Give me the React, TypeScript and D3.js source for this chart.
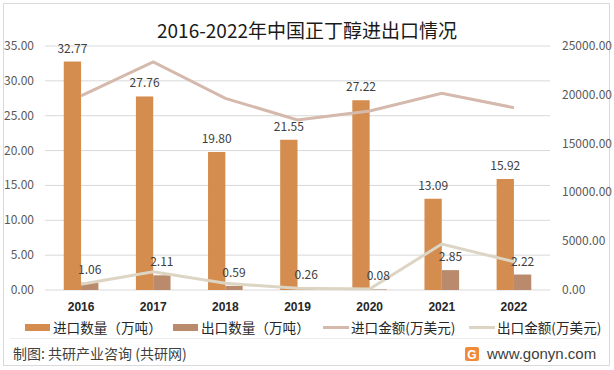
import React from "react"
import * as d3 from "d3"

const years = ["2016", "2017", "2018", "2019", "2020", "2021", "2022"]
const importQty = [32.77, 27.76, 19.8, 21.55, 27.22, 13.09, 15.92]
const exportQty = [1.06, 2.11, 0.59, 0.26, 0.08, 2.85, 2.22]
const importAmt = [19880, 23360, 19640, 17420, 18340, 20150, 18680]
const exportAmt = [590, 1870, 690, 170, 100, 4710, 2900]
const leftTicks = [0, 5, 10, 15, 20, 25, 30, 35]
const rightTicks = [0, 5000, 10000, 15000, 20000, 25000]

const legendItems = [
  { label: "进口数量（万吨）", kind: "bar", color: "#D48C4F", x: 25 },
  { label: "出口数量（万吨）", kind: "bar", color: "#B98A6B", x: 173 },
  { label: "进口金额(万美元)", kind: "line", color: "#D5B9AC", x: 323 },
  { label: "出口金额(万美元)", kind: "line", color: "#DDD5C3", x: 469 },
]

const FONT = "'Noto Sans CJK SC', 'Noto Sans', sans-serif"

export default function App() {
  const width = 614
  const height = 370
  const plot = { left: 45, right: 550, top: 46, bottom: 290 }

  const x = d3.scaleBand().domain(years).range([plot.left, plot.right])
  const bw = x.bandwidth()
  const xSub = d3
    .scaleBand()
    .domain(["import", "export"])
    .range([bw * 0.26, bw * 0.74])
  const yL = d3.scaleLinear().domain([0, 35]).range([plot.bottom, plot.top])
  const yR = d3.scaleLinear().domain([0, 25000]).range([plot.bottom, plot.top])
  const cx = (y: string) => (x(y) ?? 0) + bw / 2

  const line = d3
    .line<number>()
    .x((_, i) => cx(years[i]))
    .y(d => yR(d))

  return (
    <svg
      width={width}
      height={height}
      style={{ position: "fixed", left: 0, top: 0, background: "#fff" }}
      fontFamily={FONT}
    >
      <rect x={3.5} y={3.5} width={606} height={362} fill="#fff" stroke="#D9D9D9" />

      <text x={307} y={38} textAnchor="middle" fontSize={19} fill="#1a1a1a">
        2016-2022年中国正丁醇进出口情况
      </text>

      {leftTicks.map(t => (
        <g key={"l" + t}>
          <line
            x1={plot.left}
            x2={plot.right}
            y1={yL(t)}
            y2={yL(t)}
            stroke="#D9D9D9"
            strokeWidth={1}
          />
          <text x={34} y={yL(t) + 4} textAnchor="end" fontSize={12} fill="#595959">
            {t.toFixed(2)}
          </text>
        </g>
      ))}
      {rightTicks.map(t => (
        <text key={"r" + t} x={562} y={yR(t) + 4} fontSize={12} fill="#595959">
          {t.toFixed(2)}
        </text>
      ))}

      {years.map((yr, i) => {
        const xi = (x(yr) ?? 0) + (xSub("import") ?? 0)
        const xe = (x(yr) ?? 0) + (xSub("export") ?? 0)
        const sw = xSub.bandwidth()
        return (
          <g key={yr}>
            <rect
              x={xi}
              y={yL(importQty[i])}
              width={sw}
              height={plot.bottom - yL(importQty[i])}
              fill="#D48C4F"
            />
            <rect
              x={xe}
              y={yL(exportQty[i])}
              width={sw}
              height={plot.bottom - yL(exportQty[i])}
              fill="#B98A6B"
            />
          </g>
        )
      })}

      <path d={line(importAmt) ?? ""} fill="none" stroke="#D5B9AC" strokeWidth={3} />
      <path d={line(exportAmt) ?? ""} fill="none" stroke="#DDD5C3" strokeWidth={3} />

      {years.map((yr, i) => {
        const sw = xSub.bandwidth()
        const xi = (x(yr) ?? 0) + (xSub("import") ?? 0) + sw / 2
        const xe = (x(yr) ?? 0) + (xSub("export") ?? 0) + sw / 2
        return (
          <g key={"lab" + yr} fontSize={12} fill="#404040" textAnchor="middle">
            <text x={xi} y={yL(importQty[i]) - 9}>
              {importQty[i].toFixed(2)}
            </text>
            <text x={xe} y={yL(exportQty[i]) - 9}>
              {exportQty[i].toFixed(2)}
            </text>
            <text
              x={cx(yr)}
              y={311}
              fontWeight="bold"
              fill="#262626"
              fontFamily="'Liberation Sans', Arial, sans-serif"
            >
              {yr}
            </text>
          </g>
        )
      })}

      {legendItems.map(it => (
        <g key={it.label}>
          {it.kind === "bar" ? (
            <rect x={it.x} y={324} width={25} height={7} fill={it.color} />
          ) : (
            <line
              x1={it.x}
              x2={it.x + 26}
              y1={327.5}
              y2={327.5}
              stroke={it.color}
              strokeWidth={3}
            />
          )}
          <text x={it.x + 28} y={332.5} fontSize={13.6} fill="#262626">
            {it.label}
          </text>
        </g>
      ))}

      <line x1={10} x2={597} y1={338.5} y2={338.5} stroke="#EDEDED" />

      <text x={13} y={358.5} fontSize={14} fill="#404040">
        制图: 共研产业咨询 (共研网)
      </text>
      <rect x={465} y={347} width={14} height={14} rx={2} fill="#F08A3C" />
      <text
        x={472}
        y={358.5}
        textAnchor="middle"
        fontSize={12}
        fontWeight="bold"
        fill="#fff"
        fontFamily="'Liberation Sans', Arial, sans-serif"
      >
        G
      </text>
      <text
        x={487}
        y={359}
        fontSize={15}
        fill="#404040"
        fontFamily="'Liberation Sans', Arial, sans-serif"
      >
        www.gonyn.com
      </text>
    </svg>
  )
}
